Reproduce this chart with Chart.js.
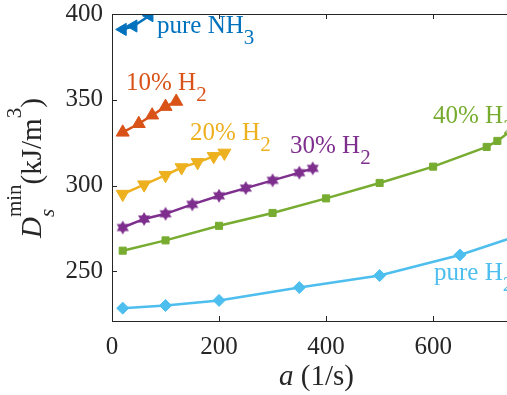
<!DOCTYPE html>
<html>
<head>
<meta charset="utf-8">
<script src="https://cdn.jsdelivr.net/npm/chart.js@4.4.0/dist/chart.umd.min.js"></script>
<style>
  html, body { margin: 0; padding: 0; background: #fff; overflow: hidden; }
  canvas { display: block; }
</style>
</head>
<body>
<canvas id="chart" width="507" height="395"></canvas>
<script>
// strain rate a (1/s) and minimum energy density D_s^min (kJ/m^3)
const nh3A = [20, 40, 70];
const nh3D = [391, 393, 399];
const h10A = [20, 50, 75, 100, 120];
const h10D = [331, 336, 341, 346, 349];
const h20A = [20, 60, 100, 130, 160, 190, 210];
const h20D = [295, 300.5, 306, 310.5, 313.5, 317, 319];
const h30A = [20, 60, 100, 150, 200, 250, 300, 350, 375];
const h30D = [275.5, 280.5, 283.5, 289, 294, 298.5, 303, 307.5, 310];
const h40A = [20, 100, 200, 300, 400, 500, 600, 700, 720, 750];
const h40D = [262, 268, 276.5, 284, 292.5, 301.5, 311, 322.5, 326, 333];
const h2A = [20, 100, 200, 350, 500, 650, 800];
const h2D = [228.5, 230, 233, 240.5, 247.5, 259.5, 275];

const xTicks = [0, 200, 400, 600];
const yTicks = [250, 300, 350, 400];

const SERIF = '"Liberation Serif", "Times New Roman", serif';
const AXIS = '#262626';

const pts = (xs, ys) => xs.map((x, i) => ({ x, y: ys[i] }));

// filled six-pointed star for the 30% series
const hexagram = (color, r) => {
    const c = document.createElement('canvas');
    c.width = c.height = r * 2 + 2;
    const g = c.getContext('2d');
    const cx = r + 1, cy = r + 1;
    g.fillStyle = color;
    [0, Math.PI].forEach(off => {
        g.beginPath();
        for (let k = 0; k < 3; k++) {
            const t = off - Math.PI / 2 + k * 2 * Math.PI / 3;
            const px = cx + r * Math.cos(t), py = cy + r * Math.sin(t);
            k ? g.lineTo(px, py) : g.moveTo(px, py);
        }
        g.closePath();
        g.fill();
    });
    return c;
};

const series = (data, color, style, radius, rotation) => ({
    data,
    borderColor: color,
    backgroundColor: color,
    borderWidth: 2.5,
    pointStyle: style,
    pointRadius: radius,
    pointRotation: rotation || 0,
    pointBorderWidth: 1,
    tension: 0,
});

// text with sub/superscripts, drawn from a baseline point
const drawRich = (ctx, x, y, parts) => {
    let cx = x, mark = x;
    parts.forEach(p => {
        ctx.font = (p.italic ? 'italic ' : '') + p.size + 'px ' + SERIF;
        if (p.stack) cx = mark;
        mark = cx;
        ctx.fillText(p.t, cx, y + (p.dy || 0));
        cx += ctx.measureText(p.t).width;
    });
    return cx - x;
};

const labels = [
    { x: 157, y: 33, color: '#0072BD', parts: [{ t: 'pure NH', size: 25 }, { t: '3', size: 21, dy: 11 }] },
    { x: 126, y: 90, color: '#D95319', parts: [{ t: '10% H', size: 25 }, { t: '2', size: 21, dy: 11 }] },
    { x: 190, y: 140, color: '#EDB120', parts: [{ t: '20% H', size: 25 }, { t: '2', size: 21, dy: 11 }] },
    { x: 290, y: 153, color: '#7E2F8E', parts: [{ t: '30% H', size: 25 }, { t: '2', size: 21, dy: 11 }] },
    { x: 433, y: 123, color: '#77AC30', parts: [{ t: '40% H', size: 25 }, { t: '2', size: 21, dy: 11 }] },
    { x: 434, y: 280, color: '#4DBEEE', parts: [{ t: 'pure H', size: 25 }, { t: '2', size: 21, dy: 11 }] },
];

const decor = {
    id: 'decor',
    afterDraw(chart) {
        const { ctx, chartArea: a, scales } = chart;
        ctx.save();
        // top box line and inward ticks
        ctx.strokeStyle = AXIS;
        ctx.lineWidth = 1;
        ctx.beginPath();
        ctx.moveTo(a.left, a.top + 0.5);
        ctx.lineTo(a.right, a.top + 0.5);
        xTicks.forEach(v => {
            const px = Math.round(scales.x.getPixelForValue(v)) + 0.5;
            ctx.moveTo(px, a.bottom);
            ctx.lineTo(px, a.bottom - 5);
            ctx.moveTo(px, a.top);
            ctx.lineTo(px, a.top + 5);
        });
        yTicks.forEach(v => {
            const py = Math.round(scales.y.getPixelForValue(v)) + 0.5;
            ctx.moveTo(a.left, py);
            ctx.lineTo(a.left + 5, py);
        });
        ctx.stroke();

        ctx.textBaseline = 'alphabetic';
        ctx.textAlign = 'left';
        labels.forEach(l => {
            ctx.fillStyle = l.color;
            drawRich(ctx, l.x, l.y, l.parts);
        });

        // axis titles
        ctx.fillStyle = AXIS;
        drawRich(ctx, 279, 385, [{ t: 'a', size: 29, italic: true }, { t: ' (1/s)', size: 29 }]);

        ctx.translate(41, 238);
        ctx.rotate(-Math.PI / 2);
        drawRich(ctx, 0, 0, [
            { t: 'D', size: 29, italic: true },
            { t: 's', size: 21, italic: true, dy: 13 },
            { t: 'min', size: 21, dy: -20, stack: true },
            { t: '(kJ/m', size: 29 },
            { t: '3', size: 21, dy: -20 },
            { t: ')', size: 29 },
        ]);
        ctx.restore();
    },
};

const tickFont = { family: SERIF, size: 25 };

new Chart(document.getElementById('chart'), {
    type: 'line',
    data: {
        datasets: [
            series(pts(nh3A, nh3D), '#0072BD', 'triangle', 7, 270),
            series(pts(h10A, h10D), '#D95319', 'triangle', 7.5, 0),
            series(pts(h20A, h20D), '#EDB120', 'triangle', 7.5, 180),
            series(pts(h30A, h30D), '#7E2F8E', hexagram('#7E2F8E', 7), 7, 0),
            series(pts(h40A, h40D), '#77AC30', 'rect', 5, 0),
            series(pts(h2A, h2D), '#4DBEEE', 'rectRot', 6, 0),
        ],
    },
    options: {
        responsive: false,
        animation: false,
        layout: { autoPadding: false, padding: { top: 14, left: 0, right: 0, bottom: 0 } },
        plugins: { legend: { display: false }, tooltip: { enabled: false } },
        scales: {
            x: {
                type: 'linear',
                min: 0,
                max: 738,
                afterBuildTicks: s => { s.ticks = xTicks.map(value => ({ value })); },
                afterFit: s => { s.height = 74; s.paddingLeft = 0; s.paddingRight = 0; },
                grid: { drawOnChartArea: false, drawTicks: false },
                border: { color: AXIS, width: 1 },
                ticks: { font: tickFont, color: AXIS, padding: 11, maxRotation: 0 },
            },
            y: {
                min: 221,
                max: 400,
                afterBuildTicks: s => { s.ticks = yTicks.map(value => ({ value })); },
                afterFit: s => { s.width = 112; s.paddingTop = 0; s.paddingBottom = 0; },
                grid: { drawOnChartArea: false, drawTicks: false },
                border: { color: AXIS, width: 1 },
                ticks: { font: tickFont, color: AXIS, padding: 9 },
            },
        },
    },
    plugins: [decor],
});
</script>
</body>
</html>
